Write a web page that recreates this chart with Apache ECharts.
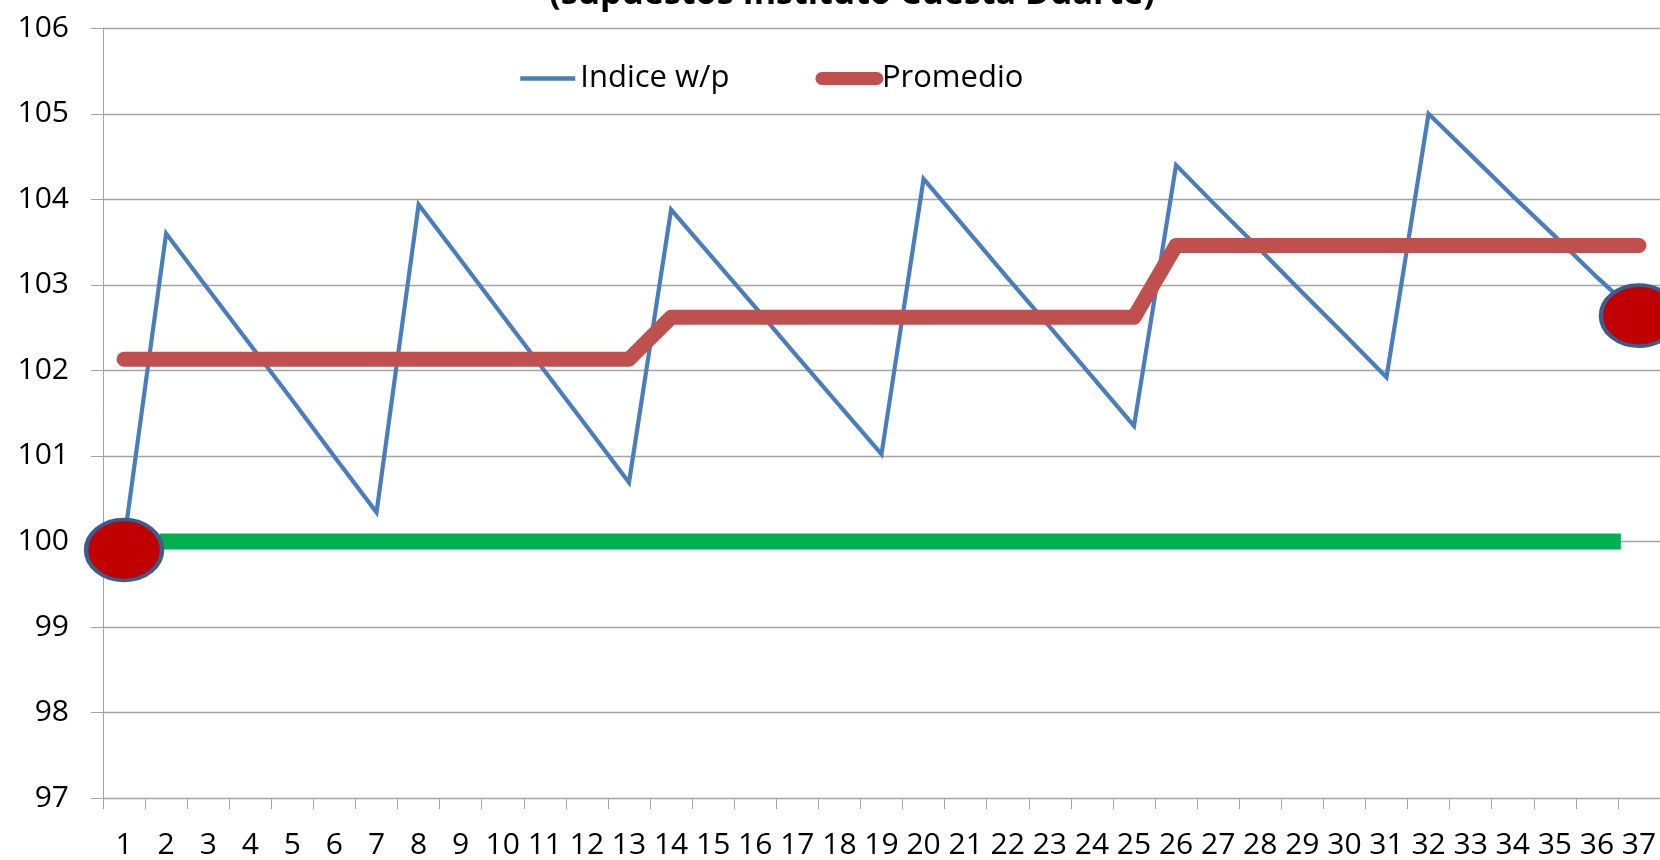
<!DOCTYPE html>
<html>
<head>
<meta charset="utf-8">
<script src="https://cdn.jsdelivr.net/npm/echarts@6/dist/echarts.min.js"></script>
<style>
  html, body { margin: 0; padding: 0; background: #ffffff; }
  #chart { width: 1660px; height: 860px; }
</style>
</head>
<body>
<div id="chart"></div>
<script>
// ---- data ----
const titleText = '(supuestos Instituto Cuesta Duarte)';
const categories = ['1','2','3','4','5','6','7','8','9','10','11','12','13','14','15','16','17','18','19','20',
  '21','22','23','24','25','26','27','28','29','30','31','32','33','34','35','36','37'];
const indiceName = 'Indice w/p';
const indiceValues = [100.00, 103.60, 102.95, 102.30, 101.65, 100.99, 100.34,
  103.94, 103.29, 102.64, 101.99, 101.34, 100.69,
  103.88, 103.31, 102.74, 102.16, 101.59, 101.02,
  104.24, 103.66, 103.08, 102.51, 101.93, 101.35,
  104.40, 103.90, 103.41, 102.91, 102.42, 101.92,
  105.00, 104.52, 104.04, 103.57, 103.09, 102.64];
const promedioName = 'Promedio';
const promedioValues = [102.13, 102.13, 102.13, 102.13, 102.13, 102.13, 102.13, 102.13, 102.13, 102.13, 102.13, 102.13, 102.13,
  102.62, 102.62, 102.62, 102.62, 102.62, 102.62, 102.62, 102.62, 102.62, 102.62, 102.62, 102.62,
  103.46, 103.46, 103.46, 103.46, 103.46, 103.46, 103.46, 103.46, 103.46, 103.46, 103.46, 103.46];
// green base line (x in category-position units, 1 = first category)
const baseLine = [[1.84, 100], [36.57, 100]];
// highlighted start / end points
const markerPoints = [['1', 99.9], ['37', 102.64]];
const yMin = 97, yMax = 106, yInterval = 1;

// ---- chart ----
const chart = echarts.init(document.getElementById('chart'), null, { renderer: 'canvas' });
const FONT = 'Open Sans';
const gridColor = '#a3a3a3';
const blue = '#4a7ebb', red = '#c0504d';

chart.setOption({
  animation: false,
  backgroundColor: '#ffffff',
  title: {
    text: titleText,
    left: 847,
    top: -28,
    textAlign: 'center',
    textStyle: { fontFamily: FONT, fontWeight: 'bold', fontSize: 34, color: '#000000' }
  },
  legend: {
    data: [
      { name: indiceName, itemStyle: { opacity: 0 }, lineStyle: { color: blue, width: 4.5, cap: 'butt' } },
      { name: promedioName, itemStyle: { opacity: 0 }, lineStyle: { color: red, width: 13, cap: 'round' } }
    ],
    left: 513,
    top: 58,
    itemWidth: 55,
    itemHeight: 14,
    itemGap: 86,
    textStyle: { fontFamily: FONT, fontSize: 31, color: '#000000' }
  },
  grid: { left: 103, right: 0, top: 28.3, bottom: 61, containLabel: false },
  xAxis: [{
    type: 'category',
    data: categories,
    boundaryGap: true,
    axisLine: { lineStyle: { color: gridColor, width: 1 } },
    axisTick: { show: true, interval: 0, length: 11, lineStyle: { color: gridColor } },
    axisLabel: { interval: 0, margin: 32, fontFamily: FONT, fontSize: 30, color: '#000000' }
  }, {
    type: 'value',
    min: 0.5,
    max: 37.5,
    show: false
  }],
  yAxis: {
    type: 'value',
    min: yMin,
    max: yMax,
    interval: yInterval,
    axisLine: { show: true, lineStyle: { color: gridColor, width: 1 } },
    axisTick: { show: true, length: 12, lineStyle: { color: gridColor } },
    splitLine: { show: true, lineStyle: { color: gridColor, width: 1.3 } },
    axisLabel: { margin: 34, fontFamily: FONT, fontSize: 30, color: '#000000' }
  },
  series: [
    {
      name: indiceName,
      type: 'line',
      data: indiceValues,
      symbol: 'none',
      z: 2,
      lineStyle: { color: blue, width: 4.2, join: 'miter' },
      itemStyle: { color: blue }
    },
    {
      name: promedioName,
      type: 'line',
      data: promedioValues,
      symbol: 'none',
      z: 3,
      lineStyle: { color: red, width: 15, cap: 'round', join: 'round' },
      itemStyle: { color: red }
    },
    {
      name: 'Base',
      type: 'line',
      xAxisIndex: 1,
      data: baseLine,
      symbol: 'none',
      z: 4,
      lineStyle: { color: '#00b050', width: 16, cap: 'butt' }
    },
    {
      name: 'Puntos',
      type: 'scatter',
      data: markerPoints,
      symbol: 'circle',
      symbolSize: [76, 61],
      z: 5,
      itemStyle: { color: '#c00000', borderColor: '#3b5c8c', borderWidth: 4, opacity: 1 }
    }
  ]
});
</script>
</body>
</html>
